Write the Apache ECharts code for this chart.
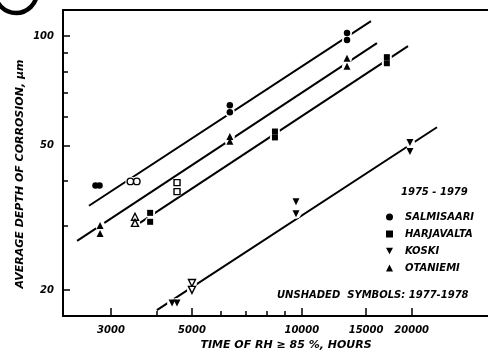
<!DOCTYPE html>
<html><head><meta charset="utf-8">
<script src="https://cdn.jsdelivr.net/npm/echarts@6/dist/echarts.min.js"></script>
<style>html,body{margin:0;padding:0;background:#fff}#c{width:488px;height:354px}</style>
</head><body><div id="c"></div>
<script>
// ---- data (hours of RH>=85 %, depth of corrosion in µm, shaded 1 = 1975-1979 / 0 = 1977-1978) ----
const siteNames = ['SALMISAARI', 'HARJAVALTA', 'KOSKI', 'OTANIEMI'];
const salmisaari = [[2720,38.8,1],[2790,38.8,1],[3390,39.8,0],[3530,39.8,0],[6350,64.5,1],[6350,61.7,1],[13300,102,1],[13300,97.5,1]];
const harjavalta = [[3840,32.6,1],[3840,30.8,1],[4550,39.5,0],[4550,37.3,0],[8440,54.6,1],[8440,52.6,1],[17100,87.5,1],[17100,84.2,1]];
const koski      = [[4410,18.4,1],[4550,18.4,1],[5000,20.9,0],[5000,20.0,0],[9640,35.0,1],[9640,32.4,1],[19780,50.9,1],[19780,48.1,1]];
const otaniemi   = [[2800,30.1,1],[2800,28.6,1],[3490,31.8,0],[3490,30.6,0],[6350,52.9,1],[6350,51.3,1],[13300,86.9,1],[13300,82.6,1]];
// fitted lines (end points)
const fitSalmisaari = [[2611,34.1],[15470,110]];
const fitHarjavalta = [[3600,30.6],[19540,93.8]];
const fitKoski      = [[4007,17.6],[23460,56.1]];
const fitOtaniemi   = [[2422,27.3],[16065,95.6]];
// axes
const xRange = [2216, 32370];
const yRange = [16.95, 118];
const xMajorTicks = [3000, 5000, 10000, 15000, 20000];
const xMinorTicks = [4000, 6000, 7000, 8000, 9000];
const yMajorTicks = [20, 50, 100];
const yMinorTicks = [30, 40, 60, 70, 80, 90];
const xTitle = 'TIME OF RH \u2265 85 %, HOURS';
const yTitle = 'AVERAGE DEPTH OF CORROSION, \u00b5m';
const legendTitle = '1975 - 1979';
const noteText = 'UNSHADED  SYMBOLS: 1977-1978';

const FONT = '"DejaVu Sans", "Liberation Sans", sans-serif';
const txt = {fontFamily: FONT, fontWeight: 'bold', fontStyle: 'italic', color: '#000'};
const chart = echarts.init(document.getElementById('c'), null, {renderer: 'canvas'});

const downTri = 'path://M0,0L10,0L5,9Z';
const symbols = {SALMISAARI: 'circle', HARJAVALTA: 'rect', KOSKI: downTri, OTANIEMI: 'triangle'};
const sizes = {SALMISAARI: 6.5, HARJAVALTA: 6, KOSKI: 7, OTANIEMI: 7};
const sets = {SALMISAARI: salmisaari, HARJAVALTA: harjavalta, KOSKI: koski, OTANIEMI: otaniemi};
const fits = [fitSalmisaari, fitHarjavalta, fitKoski, fitOtaniemi];

const series = [];
fits.forEach(f => series.push({
  type: 'line', data: f, showSymbol: false, silent: true, z: 2,
  lineStyle: {color: '#000', width: 2}
}));
const allPts = [].concat(salmisaari, harjavalta, koski, otaniemi).map(p => [p[0], p[1]]);
series.push({type: 'scatter', data: allPts, symbol: 'circle', symbolSize: 10, silent: true, z: 3,
  itemStyle: {color: '#fff', opacity: 1}});
siteNames.forEach(n => series.push({
  type: 'scatter', name: n, symbol: symbols[n], symbolSize: sizes[n], z: 4,
  itemStyle: {color: '#000', opacity: 1},
  data: sets[n].map(p => p[2] ? {value: [p[0], p[1]]} :
    {value: [p[0], p[1]], itemStyle: {color: '#fff', borderColor: '#000', borderWidth: 1.4, opacity: 1}})
}));

const axLine = {show: true, onZero: false, lineStyle: {color: '#000', width: 2}};
const gText = (x, y, text, align, size, rot) => ({
  type: 'text', x: x, y: y, rotation: rot || 0,
  style: {text: text, font: 'italic bold ' + size + 'px ' + FONT, fill: '#000',
          align: align, verticalAlign: 'middle', textAlign: align, textVerticalAlign: 'middle'}
});
chart.setOption({
  animation: false,
  backgroundColor: '#fff',
  grid: {left: 63, top: 10, right: 0, bottom: 38},
  xAxis: [
    {type: 'log', min: xRange[0], max: xRange[1], position: 'bottom', axisLine: axLine,
     splitLine: {show: false}, minorTick: {show: false},
     axisTick: {show: true, inside: true, length: 8, customValues: xMajorTicks, lineStyle: {color: '#000', width: 1.5}},
     axisLabel: {show: true, customValues: xMajorTicks, margin: 9, fontSize: 10, ...txt, formatter: v => String(Math.round(v))}},
    {type: 'log', min: xRange[0], max: xRange[1], position: 'bottom', axisLine: {show: false},
     splitLine: {show: false},
     axisTick: {show: true, inside: true, length: 5, customValues: xMinorTicks, lineStyle: {color: '#000', width: 1.5}},
     axisLabel: {show: false}},
    {type: 'value', min: 0, max: 1, position: 'top', axisLine: axLine, splitLine: {show: false},
     axisTick: {show: false}, axisLabel: {show: false}}
  ],
  yAxis: [
    {type: 'log', min: yRange[0], max: yRange[1], position: 'left', axisLine: axLine,
     splitLine: {show: false},
     axisTick: {show: true, inside: true, length: 7, customValues: yMajorTicks, lineStyle: {color: '#000', width: 1.5}},
     axisLabel: {show: true, customValues: yMajorTicks, margin: 9, fontSize: 10, ...txt, formatter: v => String(Math.round(v))}},
    {type: 'log', min: yRange[0], max: yRange[1], position: 'left', axisLine: {show: false},
     splitLine: {show: false},
     axisTick: {show: true, inside: true, length: 5, customValues: yMinorTicks, lineStyle: {color: '#000', width: 1.5}},
     axisLabel: {show: false}}
  ],
  legend: {
    data: siteNames, orient: 'vertical', left: 381, top: 207, itemWidth: 7, itemHeight: 7, itemGap: 7,
    selectedMode: false, formatter: n => '  ' + n,
    textStyle: {...txt, fontSize: 10}
  },
  graphic: [
    gText(20, 174, yTitle, 'center', 11, Math.PI / 2),
    gText(286, 345, xTitle, 'center', 11),
    gText(401, 192, legendTitle, 'left', 10),
    gText(277, 295, noteText, 'left', 10),
    {type: 'arc', shape: {cx: 16, cy: -8, r: 21, startAngle: 0, endAngle: Math.PI},
     style: {stroke: '#000', lineWidth: 4.5, fill: null}}
  ],
  series: series
});
</script></body></html>
